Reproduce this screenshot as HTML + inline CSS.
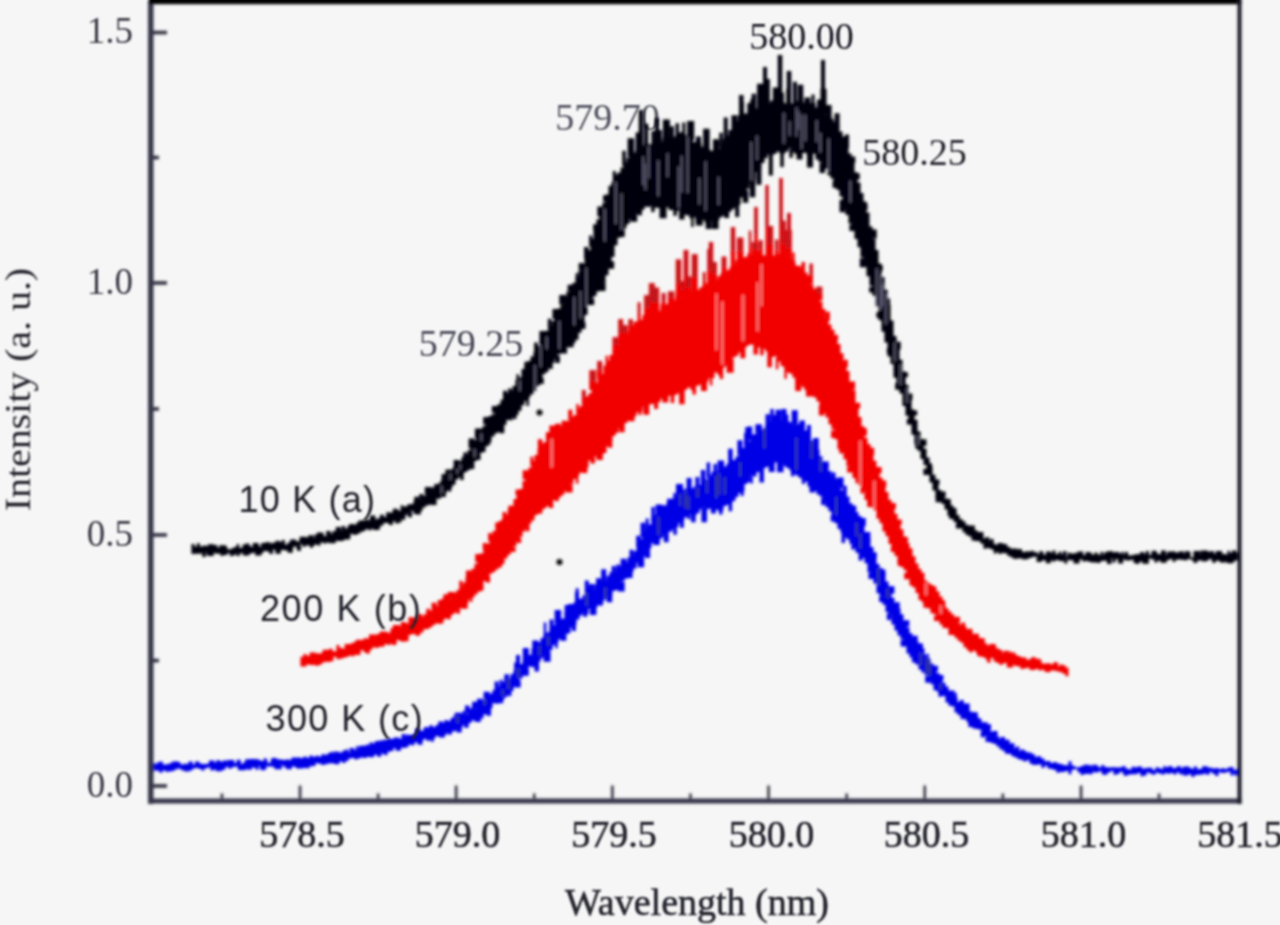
<!DOCTYPE html><html><head><meta charset="utf-8"><style>html,body{margin:0;padding:0;background:#f6f6f6;overflow:hidden}svg{display:block}</style></head><body><svg width="1280" height="925" viewBox="0 0 1280 925"><defs><filter id="b" x="-2%" y="-2%" width="104%" height="104%"><feGaussianBlur stdDeviation="1.35"/></filter><filter id="t" x="-5%" y="-5%" width="110%" height="110%"><feGaussianBlur stdDeviation="1.1"/></filter></defs><rect width="1280" height="925" fill="#f6f6f6"/><g filter="url(#t)"><text x="801.5" y="49" font-family="Liberation Serif" font-size="38" text-anchor="middle" fill="#181820">580.00</text><text x="914.5" y="165" font-family="Liberation Serif" font-size="38" text-anchor="middle" fill="#22222c">580.25</text><text x="607.5" y="129.5" font-family="Liberation Serif" font-size="38" text-anchor="middle" fill="#50505e">579.70</text><text x="471" y="356" font-family="Liberation Serif" font-size="38" text-anchor="middle" fill="#464654">579.25</text></g><g filter="url(#b)"><path d="M152.0 764.0V772.6M155.0 763.3V770.6M158.0 764.6V770.8M161.0 761.6V772.7M164.0 764.6V770.6M167.0 764.2V771.7M170.0 763.4V771.4M173.0 761.7V771.0M176.0 761.2V769.5M179.0 762.0V768.6M182.0 764.5V770.1M185.0 763.8V771.2M188.0 763.9V771.5M191.0 762.2V770.6M194.0 764.4V768.6M197.0 762.1V768.0M200.0 763.6V769.1M203.0 763.9V770.6M206.0 763.9V768.2M209.0 763.4V767.5M212.0 762.2V770.5M215.0 762.4V769.8M218.0 763.0V769.2M221.0 761.5V770.5M224.0 761.8V769.8M227.0 764.1V767.0M230.0 762.4V768.7M233.0 763.2V767.2M236.0 763.1V766.6M239.0 759.9V768.7M242.0 763.7V766.2M245.0 762.0V770.1M248.0 760.2V768.4M251.0 760.7V767.1M254.0 761.1V767.8M257.0 759.0V767.3M260.0 760.2V766.1M263.0 760.9V770.3M266.0 759.5V765.9M269.0 762.9V766.6M272.0 760.4V766.6M275.0 759.1V767.7M278.0 759.3V768.5M281.0 759.5V764.8M284.0 759.9V766.6M287.0 759.4V768.8M290.0 759.8V767.1M293.0 757.5V766.6M296.0 757.6V767.0M299.0 757.6V764.6M302.0 758.0V768.0M305.0 756.5V765.5M308.0 757.8V768.2M311.0 755.4V766.2M314.0 756.7V766.0M317.0 755.8V763.2M320.0 756.5V763.7M323.0 754.2V765.0M326.0 754.7V764.3M329.0 753.3V763.4M332.0 753.9V763.2M335.0 751.4V763.9M338.0 751.7V762.2M341.0 752.4V761.4M344.0 750.5V763.1M347.0 749.4V760.9M350.0 752.2V758.5M353.0 750.0V757.9M356.0 749.9V759.6M359.0 749.1V758.6M362.0 746.8V757.6M365.0 745.4V758.0M368.0 744.5V756.9M371.0 746.2V755.2M374.0 743.8V755.0M377.0 740.9V754.7M380.0 742.1V752.1M383.0 741.1V754.2M386.0 741.3V753.7M389.0 738.2V751.8M392.0 739.0V751.1M395.0 737.6V748.1M398.0 737.4V748.6M401.0 738.8V747.6M404.0 736.9V748.1M407.0 734.4V747.3M410.0 734.9V744.8M413.0 734.5V745.2M416.0 733.9V742.4M419.0 731.1V741.6M422.0 730.7V740.7M425.0 728.7V739.0M428.0 728.5V741.1M431.0 727.0V739.8M434.0 727.1V738.4M437.0 725.1V735.9M440.0 725.0V736.6M443.0 722.4V734.6M446.0 719.9V734.4M449.0 721.1V732.5M452.0 718.0V731.6M455.0 715.5V731.3M458.0 713.8V729.8M461.0 714.1V727.7M464.0 711.1V725.3M467.0 713.6V723.7M470.0 708.4V722.9M473.0 706.9V720.4M476.0 708.2V721.3M479.0 703.1V717.1M482.0 701.1V718.6M485.0 700.1V714.4M488.0 695.9V713.2M491.0 693.5V708.2M494.0 690.0V703.2M497.0 688.7V703.7M500.0 685.7V701.9M503.0 682.1V699.5M506.0 677.0V697.0M509.0 677.9V693.4M512.0 674.1V691.0M515.0 670.8V686.8M518.0 667.6V682.3M521.0 664.0V678.5M524.0 660.2V675.8M527.0 655.0V671.6M530.0 654.8V666.6M533.0 648.5V667.2M536.0 645.9V665.9M539.0 642.3V661.7M542.0 638.1V658.3M545.0 634.5V655.2M548.0 632.3V654.5M551.0 629.1V650.1M554.0 625.0V645.3M557.0 620.6V642.5M560.0 618.9V639.0M563.0 618.6V636.2M566.0 612.2V634.4M569.0 608.1V633.2M572.0 605.6V627.5M575.0 602.6V624.6M578.0 599.1V619.5M581.0 598.4V615.5M584.0 595.2V613.2M587.0 594.2V613.9M590.0 591.1V608.8M593.0 590.2V608.5M596.0 584.4V607.3M599.0 584.2V605.2M602.0 580.7V603.2M605.0 580.2V599.7M608.0 575.7V598.6M611.0 572.1V595.0M614.0 572.3V591.1M617.0 568.4V589.9M620.0 566.2V587.5M623.0 563.5V581.1M626.0 562.2V578.7M629.0 557.4V574.3M632.0 555.4V572.1M635.0 551.1V568.5M638.0 545.6V562.8M641.0 539.1V558.7M644.0 531.2V556.1M647.0 527.0V548.5M650.0 524.2V548.0M653.0 517.1V543.0M656.0 514.9V543.0M659.0 513.0V539.9M662.0 510.4V537.8M665.0 505.4V534.1M668.0 502.6V531.8M671.0 502.9V531.4M674.0 498.6V529.1M677.0 496.6V527.0M680.0 492.8V523.1M683.0 489.4V519.9M686.0 488.7V517.3M689.0 489.3V519.2M692.0 488.2V514.3M695.0 486.6V515.4M698.0 484.5V513.2M701.0 484.9V509.2M704.0 478.9V507.4M707.0 479.2V509.6M710.0 475.3V508.7M713.0 471.8V508.6M716.0 473.1V509.5M719.0 470.1V510.7M722.0 466.4V510.5M725.0 466.4V505.9M728.0 463.7V504.7M731.0 459.9V502.5M734.0 459.9V500.9M737.0 456.4V496.9M740.0 452.0V493.1M743.0 447.7V491.4M746.0 440.4V484.1M749.0 441.2V482.3M752.0 434.7V475.8M755.0 433.9V476.6M758.0 432.0V472.3M761.0 430.4V471.0M764.0 427.9V468.6M767.0 424.8V467.1M770.0 421.7V466.3M773.0 423.6V463.8M776.0 421.2V462.5M779.0 422.7V463.1M782.0 420.4V463.2M785.0 422.4V466.5M788.0 421.2V468.3M791.0 422.2V470.4M794.0 424.3V473.7M797.0 424.2V475.6M800.0 423.8V477.8M803.0 425.9V479.5M806.0 430.3V481.7M809.0 435.1V486.4M812.0 440.2V485.1M815.0 445.6V491.0M818.0 449.7V494.6M821.0 456.3V496.4M824.0 462.4V501.0M827.0 465.6V507.3M830.0 471.1V511.3M833.0 476.4V518.5M836.0 478.3V523.2M839.0 483.3V529.1M842.0 489.9V532.4M845.0 494.1V537.6M848.0 496.4V539.4M851.0 503.3V543.9M854.0 505.5V547.7M857.0 512.0V552.8M860.0 515.9V553.7M863.0 522.2V558.0M866.0 532.1V563.2M869.0 538.4V572.0M872.0 547.0V577.2M875.0 553.5V583.6M878.0 564.0V593.3M881.0 568.0V596.6M884.0 573.1V604.7M887.0 581.6V612.1M890.0 586.7V614.7M893.0 597.8V624.6M896.0 603.3V630.4M899.0 608.2V635.4M902.0 614.2V639.1M905.0 622.2V646.3M908.0 627.4V653.6M911.0 633.3V657.6M914.0 637.0V660.9M917.0 641.3V664.4M920.0 643.8V669.6M923.0 648.3V672.5M926.0 655.0V675.0M929.0 658.5V680.8M932.0 663.6V684.3M935.0 667.6V690.3M938.0 673.1V691.4M941.0 678.3V694.9M944.0 682.8V696.3M947.0 686.5V702.6M950.0 690.4V705.7M953.0 690.5V706.5M956.0 697.5V712.6M959.0 702.0V714.9M962.0 702.5V718.9M965.0 704.4V719.2M968.0 708.6V721.9M971.0 711.4V723.6M974.0 712.6V728.6M977.0 717.1V729.0M980.0 718.6V729.8M983.0 722.2V735.6M986.0 722.3V736.2M989.0 726.9V738.6M992.0 731.6V742.9M995.0 733.2V744.1M998.0 736.6V746.6M1001.0 739.3V749.2M1004.0 741.0V750.9M1007.0 741.1V753.0M1010.0 743.6V754.0M1013.0 747.0V756.3M1016.0 748.5V757.6M1019.0 751.0V759.3M1022.0 752.7V760.0M1025.0 750.9V761.5M1028.0 752.8V760.3M1031.0 754.9V763.8M1034.0 756.1V765.0M1037.0 757.6V764.8M1040.0 758.8V764.6M1043.0 758.5V768.0M1046.0 761.3V765.7M1049.0 761.0V768.4M1052.0 762.9V769.1M1055.0 761.9V769.9M1058.0 763.3V772.8M1061.0 764.0V769.2M1064.0 764.9V771.4M1067.0 765.2V771.1M1070.0 761.3V774.2M1073.0 765.6V769.7M1076.0 767.1V769.1M1079.0 767.2V772.3M1082.0 766.1V775.1M1085.0 764.8V772.7M1088.0 766.4V773.8M1091.0 765.2V774.3M1094.0 768.6V772.2M1097.0 765.5V772.6M1100.0 767.6V771.3M1103.0 767.1V773.2M1106.0 767.0V773.9M1109.0 767.6V772.5M1112.0 767.3V770.9M1115.0 767.3V774.7M1118.0 767.6V773.9M1121.0 767.3V771.7M1124.0 766.0V773.5M1127.0 768.4V774.7M1130.0 769.5V774.4M1133.0 766.8V774.3M1136.0 767.3V774.3M1139.0 767.1V773.1M1142.0 768.7V776.3M1145.0 768.3V773.6M1148.0 767.8V772.4M1151.0 767.8V773.7M1154.0 770.0V774.8M1157.0 767.3V772.8M1160.0 768.3V773.6M1163.0 769.2V774.4M1166.0 767.5V773.2M1169.0 766.6V773.8M1172.0 768.0V772.9M1175.0 768.1V774.6M1178.0 767.8V772.4M1181.0 768.4V774.5M1184.0 766.8V773.6M1187.0 769.2V774.1M1190.0 767.7V774.4M1193.0 768.9V777.0M1196.0 769.6V775.1M1199.0 769.0V774.7M1202.0 768.7V774.5M1205.0 767.9V773.7M1208.0 767.5V774.7M1211.0 767.7V772.0M1214.0 768.6V774.0M1217.0 768.1V775.9M1220.0 769.1V772.2M1223.0 768.2V773.0M1226.0 768.9V772.6M1229.0 767.5V771.7M1232.0 767.0V775.6M1235.0 770.0V773.4M1238.0 768.6V774.5" stroke="#0606e6" stroke-width="3.06" fill="none"/><path d="M160.0 762.2V766.8M211.7 760.6V765.5M274.0 757.9V762.6M361.5 745.7V750.4M591.8 583.9V593.0M802.2 420.5V428.8M816.0 438.1V450.4M863.0 517.9V526.1M920.2 643.6V648.4M935.2 665.8V671.3M940.7 674.9V680.3M1204.9 766.3V771.0M398.3 745.9V750.7M478.1 715.6V722.1M609.5 593.3V602.2M704.2 507.6V522.3M812.2 484.0V492.4M871.2 572.5V578.9M903.4 639.8V646.6M914.7 657.7V662.5M971.0 721.9V727.1M1061.9 767.5V772.0M1143.9 771.0V775.6" stroke="#0606e6" stroke-width="5.5" fill="none"/><path d="M173.5 762.0V766.6M190.4 761.5V766.2M218.2 760.3V765.3M238.6 759.7V764.5M496.6 681.6V691.4M551.5 619.6V630.5M586.8 580.4V596.0M613.7 566.0V575.2M631.5 549.7V558.6M697.4 477.0V490.1M808.9 425.1V438.7M833.5 472.6V479.1M961.7 700.0V704.7M1022.3 749.4V754.3M1094.6 764.8V769.8M379.2 751.0V756.8M450.0 729.7V734.5M526.8 669.6V675.7M573.9 622.1V630.9M585.2 610.0V616.7M681.9 518.7V527.7M860.6 553.2V560.6M982.7 731.5V737.3M1125.7 770.9V775.8M1236.6 771.0V775.6M518.0 655.0V671.0M577.0 592.0V604.7" stroke="#0606e6" stroke-width="4.0" fill="none"/><path d="M197.2 761.5V766.1M225.2 760.4V765.0M351.9 747.9V752.6M426.3 727.1V731.8M440.5 721.5V726.0M467.2 705.6V713.0M506.7 674.2V681.9M516.4 662.4V671.9M638.4 535.8V546.6M703.1 469.9V485.1M730.4 448.7V465.0M750.0 426.5V440.2M767.8 414.2V428.0M868.1 532.0V540.1M874.4 552.3V556.9M883.2 569.6V575.4M1002.8 737.0V741.8M1007.4 739.8V744.8M1038.8 756.2V761.1M1139.8 766.5V771.0M1178.8 766.2V771.0M1187.0 766.4V771.0M249.6 765.0V769.7M289.6 764.2V769.2M466.4 721.9V727.8M488.8 708.0V715.8M536.8 660.3V671.4M693.4 511.7V522.2M761.7 468.5V482.6M823.4 497.4V505.0M889.1 613.2V620.1M590.0 588.0V595.1" stroke="#0606e6" stroke-width="4.5" fill="none"/><path d="M230.8 760.1V764.8M458.2 712.8V718.2M679.5 484.0V497.0M278.3 764.4V769.3M299.6 763.9V768.5M547.1 650.8V661.8M621.2 581.7V591.5" stroke="#0606e6" stroke-width="7.0" fill="none"/><path d="M248.2 759.2V764.1M252.7 759.0V763.8M385.9 739.7V744.4M475.1 701.8V708.5M480.0 698.7V705.7M486.6 691.7V700.6M525.8 648.0V661.0M535.3 640.4V649.4M570.9 604.1V610.8M623.6 558.7V566.4M778.6 409.7V423.8M794.7 410.3V424.5M906.3 620.2V626.4M1028.7 752.6V757.2M218.9 766.2V771.2M241.2 765.4V770.3M306.0 763.3V768.0M441.9 732.5V737.5M517.7 680.3V687.4M563.4 634.6V640.8M629.6 571.7V577.9M771.7 462.9V472.0M1084.5 769.4V774.0" stroke="#0606e6" stroke-width="6.0" fill="none"/><path d="M265.0 758.2V763.1M357.1 746.3V751.4M545.0 622.6V637.5M674.5 493.0V501.4M927.5 653.8V659.0M955.6 692.8V698.6M386.1 749.4V755.2M556.5 641.5V648.2M751.6 476.1V483.4" stroke="#0606e6" stroke-width="2.5" fill="none"/><path d="M331.6 751.9V756.5M371.3 742.5V748.0M376.1 741.8V746.9M403.4 734.1V739.0M431.0 725.3V729.9M566.4 605.0V615.6M618.1 564.5V571.2M653.1 507.0V521.9M663.1 505.2V511.9M708.4 462.5V478.0M715.2 464.1V474.0M845.0 485.7V495.5M1012.7 743.2V748.3M1017.5 746.5V751.4M1032.9 753.9V758.8M1087.5 764.8V769.5M1195.4 766.4V771.0M337.7 759.5V764.2M509.7 689.9V696.0M675.1 523.9V534.8M720.8 506.7V514.6M730.4 500.1V511.2M792.7 469.2V476.2M843.3 532.1V542.9M853.1 544.4V549.6M940.2 690.5V696.8M1006.8 748.7V753.7M772.0 409.0V427.2M747.0 427.0V445.1" stroke="#0606e6" stroke-width="3.5" fill="none"/><path d="M381.1 740.5V745.7M417.7 728.4V734.6M598.5 578.3V588.5M603.7 569.2V584.1M643.1 522.7V537.4M689.1 478.1V492.0M739.9 440.3V455.3M897.2 602.3V607.9M915.2 635.7V641.4M975.3 712.2V718.0M995.1 731.0V736.2M371.7 752.6V757.2M420.0 739.7V744.7M459.2 725.8V732.4M500.7 697.8V703.2M647.6 546.4V558.0M666.2 530.8V542.2M713.4 507.3V513.5M833.2 515.4V521.5M881.6 596.6V602.1M927.7 675.9V682.7M1104.7 770.2V774.7M1185.6 771.0V775.6M784.0 409.0V424.5" stroke="#0606e6" stroke-width="5.0" fill="none"/><path d="M501.1 679.7V687.2M577.2 588.3V603.5M647.2 518.5V530.0M745.6 432.7V446.0M786.9 414.6V423.7M854.8 505.9V511.2M1102.8 765.1V770.1M1164.6 766.2V771.0M1170.8 766.1V771.0M257.1 764.9V769.7M432.3 735.8V741.7M601.2 599.7V605.7M742.2 487.8V496.0M803.4 477.5V484.1" stroke="#0606e6" stroke-width="3.0" fill="none"/><path d="M557.9 610.0V624.1M658.9 504.5V516.1M670.3 498.7V505.2M720.9 460.4V471.8M758.6 424.2V433.3M774.5 415.1V425.2M825.5 461.5V467.9M840.3 477.4V488.6M891.2 586.2V593.7M966.4 703.4V709.4M987.8 724.3V729.6M263.2 764.7V769.6M593.2 605.2V614.9M640.9 555.8V567.2M656.5 538.2V545.0M780.3 460.6V472.2M988.8 736.5V741.9" stroke="#0606e6" stroke-width="6.5" fill="none"/><path d="M457.6 715.5V723.1M484.9 699.1V704.9M502.7 689.6V696.0M508.6 678.5V689.6M518.3 668.3V678.0M539.5 645.8V655.6M548.2 636.3V645.7M586.8 593.0V605.8M605.4 587.6V598.6M658.5 517.1V534.9M680.2 493.8V505.8M685.5 490.7V508.2M688.3 496.2V509.6M697.6 487.8V497.4M707.0 480.5V493.0M716.1 475.4V498.2M719.1 473.4V494.7M724.8 477.3V494.6M740.1 462.2V476.6M764.2 427.8V448.5M796.2 438.0V469.9M811.6 441.3V458.4M820.8 458.2V471.8M836.1 497.0V515.2M856.6 522.7V536.1M860.2 533.5V548.5M878.2 568.3V585.4M887.6 588.6V598.0M920.7 652.8V665.5M926.7 657.1V673.2M929.5 660.7V676.0M940.5 683.4V689.2" stroke="#3c4478" stroke-width="1.65" fill="none"/><path d="M302.0 656.7V666.4M305.0 653.9V666.6M308.0 655.7V664.6M311.0 656.5V664.9M314.0 652.4V664.9M317.0 653.3V665.8M320.0 653.4V665.0M323.0 652.6V662.8M326.0 652.5V661.7M329.0 650.0V661.9M332.0 651.5V661.3M335.0 651.2V656.8M338.0 645.0V659.3M341.0 648.1V658.7M344.0 648.5V657.8M347.0 644.2V657.0M350.0 644.0V655.8M353.0 642.7V656.2M356.0 641.3V654.2M359.0 641.7V652.5M362.0 639.9V650.2M365.0 638.3V651.1M368.0 638.6V653.8M371.0 636.6V649.8M374.0 636.1V647.2M377.0 634.3V647.9M380.0 633.5V646.7M383.0 632.9V646.7M386.0 631.8V644.2M389.0 632.7V645.1M392.0 628.2V643.6M395.0 626.4V643.4M398.0 626.6V640.0M401.0 626.5V641.3M404.0 623.6V641.4M407.0 623.2V639.0M410.0 623.1V635.1M413.0 619.4V634.1M416.0 618.4V634.6M419.0 616.6V634.3M422.0 616.4V632.5M425.0 614.3V629.2M428.0 611.5V629.1M431.0 610.5V627.2M434.0 606.9V624.9M437.0 606.3V623.0M440.0 603.4V621.1M443.0 598.5V620.3M446.0 599.3V618.5M449.0 599.8V616.4M452.0 592.8V615.1M455.0 592.4V612.9M458.0 589.9V609.5M461.0 587.1V608.0M464.0 582.6V605.2M467.0 577.3V602.9M470.0 572.3V599.5M473.0 568.8V597.6M476.0 563.8V594.5M479.0 558.0V591.8M482.0 553.3V590.6M485.0 549.0V580.9M488.0 543.5V581.0M491.0 534.7V573.8M494.0 531.0V572.0M497.0 527.7V569.4M500.0 521.1V567.3M503.0 519.1V563.9M506.0 514.4V558.4M509.0 509.9V555.1M512.0 505.7V550.7M515.0 499.0V546.3M518.0 494.6V541.6M521.0 489.1V536.8M524.0 480.9V531.5M527.0 471.7V528.2M530.0 467.6V523.7M533.0 461.0V520.5M536.0 455.0V515.2M539.0 449.2V510.8M542.0 443.7V509.9M545.0 442.0V508.3M548.0 440.0V505.9M551.0 431.9V503.0M554.0 432.7V500.2M557.0 431.3V501.3M560.0 426.6V497.2M563.0 425.7V494.8M566.0 421.8V490.9M569.0 420.4V491.2M572.0 416.9V483.7M575.0 415.1V479.1M578.0 408.8V475.5M581.0 405.9V472.6M584.0 401.8V470.2M587.0 396.3V467.4M590.0 393.2V460.6M593.0 385.2V459.2M596.0 383.0V456.6M599.0 375.7V455.8M602.0 373.9V454.2M605.0 365.5V453.0M608.0 360.6V446.6M611.0 354.9V440.6M614.0 350.7V436.0M617.0 346.0V433.0M620.0 341.1V427.7M623.0 339.0V424.8M626.0 335.6V423.0M629.0 331.6V419.9M632.0 325.9V418.7M635.0 321.7V416.3M638.0 321.2V412.2M641.0 319.8V411.8M644.0 314.9V406.8M647.0 314.1V407.8M650.0 312.0V404.4M653.0 311.0V403.9M656.0 312.1V401.4M659.0 310.7V402.3M662.0 304.2V398.8M665.0 304.5V401.2M668.0 303.7V396.3M671.0 300.8V395.6M674.0 300.2V395.5M677.0 296.5V394.2M680.0 298.7V392.5M683.0 294.5V392.0M686.0 293.4V389.7M689.0 293.6V387.5M692.0 291.3V390.0M695.0 289.9V385.6M698.0 289.7V385.7M701.0 287.3V384.5M704.0 285.0V383.5M707.0 283.3V381.7M710.0 283.9V378.3M713.0 279.5V377.9M716.0 279.8V372.4M719.0 275.9V374.9M722.0 273.0V369.0M725.0 272.5V366.7M728.0 270.1V363.6M731.0 266.9V360.6M734.0 264.5V357.4M737.0 260.1V355.7M740.0 260.7V352.6M743.0 257.4V348.7M746.0 256.7V347.1M749.0 253.1V345.1M752.0 254.4V344.5M755.0 253.9V345.0M758.0 251.9V347.2M761.0 254.2V348.2M764.0 255.2V349.1M767.0 255.4V351.6M770.0 252.9V356.9M773.0 255.6V357.1M776.0 255.3V355.9M779.0 254.1V361.4M782.0 256.5V366.0M785.0 257.4V367.4M788.0 257.7V372.5M791.0 259.3V373.8M794.0 261.3V377.7M797.0 265.6V381.9M800.0 266.1V384.5M803.0 269.8V387.2M806.0 272.5V390.2M809.0 275.6V391.6M812.0 285.0V395.8M815.0 288.7V397.6M818.0 295.7V401.6M821.0 301.7V407.1M824.0 308.9V413.0M827.0 319.3V417.6M830.0 324.5V424.3M833.0 329.8V429.3M836.0 336.6V439.3M839.0 344.1V449.2M842.0 353.2V452.5M845.0 361.5V459.3M848.0 370.9V466.3M851.0 383.0V470.7M854.0 390.2V478.0M857.0 404.8V483.2M860.0 416.9V486.1M863.0 426.2V490.8M866.0 437.8V499.9M869.0 444.0V501.2M872.0 453.6V507.6M875.0 460.8V511.1M878.0 468.1V518.8M881.0 477.6V523.3M884.0 486.5V531.4M887.0 491.9V536.3M890.0 499.8V544.1M893.0 508.0V547.6M896.0 513.8V555.9M899.0 521.0V562.6M902.0 529.2V566.9M905.0 536.6V570.0M908.0 543.0V579.0M911.0 548.3V585.5M914.0 556.2V587.6M917.0 563.6V593.1M920.0 569.0V600.1M923.0 572.7V602.2M926.0 580.6V605.9M929.0 583.1V608.6M932.0 585.0V613.2M935.0 588.4V614.3M938.0 591.6V620.6M941.0 596.5V624.4M944.0 604.5V628.0M947.0 608.2V628.2M950.0 611.5V635.1M953.0 614.5V634.9M956.0 617.6V637.7M959.0 623.1V640.8M962.0 625.3V642.8M965.0 626.5V647.2M968.0 629.1V649.2M971.0 631.0V652.6M974.0 633.9V650.8M977.0 638.3V652.4M980.0 638.0V656.4M983.0 642.0V657.0M986.0 643.6V658.5M989.0 645.4V662.8M992.0 647.0V657.9M995.0 647.3V661.6M998.0 648.4V663.1M1001.0 650.1V662.8M1004.0 653.0V663.5M1007.0 654.1V662.8M1010.0 651.5V666.9M1013.0 654.3V664.7M1016.0 655.1V666.1M1019.0 655.9V666.4M1022.0 657.2V668.9M1025.0 657.5V668.4M1028.0 659.8V667.8M1031.0 658.6V670.1M1034.0 659.3V670.0M1037.0 658.5V669.1M1040.0 660.7V670.6M1043.0 663.5V669.8M1046.0 663.4V671.9M1049.0 663.3V672.2M1052.0 664.3V670.4M1055.0 662.2V670.8M1058.0 666.4V671.6M1061.0 664.4V672.2M1064.0 665.2V673.8M1067.0 667.5V676.2" stroke="#f20606" stroke-width="3.06" fill="none"/><path d="M311.3 652.4V657.3M330.9 648.8V653.4M428.1 608.7V613.9M489.9 532.9V541.2M504.3 511.9V520.0M776.7 239.8V259.1M803.3 262.1V272.2M811.2 263.7V284.5M836.3 334.7V340.3M906.3 537.3V542.5M963.4 622.4V628.0M970.6 628.7V634.2M1033.6 657.1V662.1M458.3 607.1V613.8M481.2 584.7V590.5M527.8 523.6V531.2M672.5 392.8V403.0M694.3 383.7V394.4M721.4 367.6V378.9M761.9 345.4V355.3M862.3 487.3V493.5M988.4 655.0V660.9M781.0 178.0V260.8M756.0 207.0V258.0" stroke="#f20606" stroke-width="3.5" fill="none"/><path d="M326.2 649.8V654.5M396.4 625.1V630.5M446.9 594.3V601.4M552.9 425.6V436.6M592.8 370.3V390.1M755.0 242.1V257.0M405.0 636.5V641.3M569.1 484.3V492.6M631.1 415.2V421.3M730.1 358.9V372.8M809.5 390.2V396.5" stroke="#f20606" stroke-width="7.0" fill="none"/><path d="M346.9 643.9V648.5M540.1 439.3V450.2M630.6 319.2V332.3M709.5 249.1V286.3M733.0 227.2V267.5M827.6 311.7V321.0M864.7 428.2V435.8M884.0 480.5V487.2M957.7 616.7V622.4M394.1 640.0V645.1M487.9 576.2V582.5M551.0 500.3V507.9M592.8 458.0V463.5M755.7 342.7V354.6M769.6 350.4V367.2M899.9 560.1V566.1M925.6 602.3V607.7M711.0 242.0V286.5" stroke="#f20606" stroke-width="4.5" fill="none"/><path d="M358.6 639.8V644.8M403.3 622.0V627.5M419.5 613.9V618.8M434.1 602.8V610.2M440.2 599.9V606.0M548.4 432.3V440.8M564.2 420.7V426.5M599.7 361.0V378.1M620.7 319.2V344.7M724.0 256.7V275.7M942.7 600.2V605.3M1006.1 650.7V655.9M742.9 346.9V358.2M833.6 430.6V438.0M906.7 572.7V579.3M686.0 250.0V298.2" stroke="#f20606" stroke-width="5.0" fill="none"/><path d="M372.2 634.5V640.0M411.7 617.3V623.3M451.0 592.0V598.5M478.5 553.9V562.0M498.5 522.5V528.1M518.8 489.4V494.9M656.0 287.7V313.5M671.2 291.4V304.5M688.5 276.6V296.2M740.2 237.7V261.4M788.6 230.1V261.5M819.2 286.8V300.5M892.6 503.1V508.9M932.9 586.3V590.9M992.6 644.1V649.4M440.0 618.7V623.8M464.4 601.9V608.7M599.6 452.4V460.1M1010.0 661.8V667.4" stroke="#f20606" stroke-width="6.5" fill="none"/><path d="M382.6 631.5V636.3M468.7 570.4V577.9M625.0 325.3V339.2M678.5 259.5V300.4M714.2 262.0V283.7M783.1 220.8V260.1M976.3 633.7V638.9M982.1 638.3V643.2M512.8 547.2V552.0M539.5 509.2V513.8M621.9 423.6V432.3M681.9 388.9V404.3M821.6 405.3V415.4M869.9 500.7V507.0M936.8 615.4V620.9" stroke="#f20606" stroke-width="5.5" fill="none"/><path d="M460.8 580.8V589.8M531.8 456.7V465.7M639.1 302.4V322.9M704.2 272.3V288.9M557.3 495.8V500.7M639.9 408.1V415.1M968.8 645.1V650.4M978.5 651.0V655.7M1001.0 659.5V664.9M767.0 185.0V258.7" stroke="#f20606" stroke-width="3.0" fill="none"/><path d="M484.8 542.9V550.5M510.2 505.8V510.9M570.3 409.7V420.3M583.8 390.1V405.1M663.6 293.1V309.0M682.6 281.3V298.6M760.7 240.3V257.1M845.8 359.8V367.4M1013.5 652.6V657.6M1056.1 662.6V667.2M417.8 630.6V635.7M448.9 613.2V619.3M500.1 562.4V567.2M519.2 537.8V543.0M610.3 439.4V447.8M656.1 399.6V409.1M841.3 448.5V453.6M892.9 546.6V552.1M789.0 213.0V262.7" stroke="#f20606" stroke-width="4.0" fill="none"/><path d="M525.7 470.3V479.6M557.9 423.8V432.3M615.5 337.3V352.1M647.1 295.3V318.2M651.8 283.2V315.7M694.7 254.3V293.5M770.2 226.1V258.2M852.1 381.6V389.5M857.2 402.7V408.4M871.2 447.7V455.1M878.6 467.0V473.6M898.8 519.5V524.6M357.5 650.3V655.1M366.9 647.8V652.5M584.4 465.1V473.0M646.3 404.6V414.8M665.3 395.7V402.5M704.0 379.0V390.9M798.2 378.8V391.0M850.1 466.8V472.4" stroke="#f20606" stroke-width="6.0" fill="none"/><path d="M577.5 404.1V412.8M606.8 355.8V366.2M750.0 230.7V257.6M793.5 252.4V264.4M1039.8 658.9V663.5M471.1 595.6V602.0M577.2 473.6V483.8M711.1 375.4V385.5M777.1 356.4V369.3M785.6 365.4V378.8" stroke="#f20606" stroke-width="2.5" fill="none"/><g stroke="#c0141e" fill="none"><path d="M583.8 390.1V397.9" stroke-width="2.9"/><path d="M592.8 370.3V381.2" stroke-width="4.7"/><path d="M599.7 361.0V370.2" stroke-width="3.5"/><path d="M615.5 337.3V345.0" stroke-width="4.1"/><path d="M620.7 319.2V333.8" stroke-width="3.5"/><path d="M625.0 325.3V332.4" stroke-width="3.8"/><path d="M630.6 319.2V325.8" stroke-width="3.1"/><path d="M639.1 302.4V313.8" stroke-width="2.1"/><path d="M647.1 295.3V308.3" stroke-width="4.4"/><path d="M651.8 283.2V302.4" stroke-width="4.3"/><path d="M656.0 287.7V302.5" stroke-width="4.6"/><path d="M663.6 293.1V301.5" stroke-width="3.0"/><path d="M671.2 291.4V297.9" stroke-width="4.5"/><path d="M678.5 259.5V284.2" stroke-width="3.8"/><path d="M682.6 281.3V290.6" stroke-width="2.9"/><path d="M688.5 276.6V287.4" stroke-width="4.6"/><path d="M694.7 254.3V277.8" stroke-width="4.3"/><path d="M704.2 272.3V281.1" stroke-width="2.1"/><path d="M709.5 249.1V271.3" stroke-width="3.3"/><path d="M714.2 262.0V274.2" stroke-width="3.7"/><path d="M724.0 256.7V267.1" stroke-width="3.5"/><path d="M733.0 227.2V251.4" stroke-width="3.3"/><path d="M740.2 237.7V251.2" stroke-width="4.5"/><path d="M750.0 230.7V246.2" stroke-width="1.8"/><path d="M755.0 242.1V249.8" stroke-width="4.9"/><path d="M760.7 240.3V249.3" stroke-width="3.0"/><path d="M770.2 226.1V245.0" stroke-width="4.2"/><path d="M776.7 239.8V250.4" stroke-width="2.4"/><path d="M783.1 220.8V244.4" stroke-width="3.7"/><path d="M788.6 230.1V248.6" stroke-width="4.5"/><path d="M811.2 263.7V275.3" stroke-width="2.6"/><path d="M819.2 286.8V293.7" stroke-width="4.5"/><path d="M767.0 185.0V226.8" stroke-width="3"/><path d="M781.0 178.0V225.3" stroke-width="3"/><path d="M756.0 207.0V235.2" stroke-width="3"/><path d="M789.0 213.0V240.4" stroke-width="3"/><path d="M711.0 242.0V266.3" stroke-width="3"/><path d="M686.0 250.0V276.5" stroke-width="3"/></g><path d="M551.8 439.1V467.5M716.4 293.4V349.9M722.2 301.5V364.4M743.0 295.0V341.0M757.6 282.2V331.2M761.4 264.2V306.0M860.3 440.5V486.1M874.3 480.9V511.1M926.0 583.0V595.3M940.8 605.2V613.7" stroke="#ff8a8a" stroke-width="1.65" fill="none"/><path d="M193.0 544.1V554.1M196.0 546.6V553.8M199.0 547.1V553.7M202.0 546.2V553.4M205.0 545.6V552.4M208.0 546.2V555.2M211.0 547.9V553.9M214.0 545.6V553.0M217.0 547.7V553.7M220.0 547.7V553.4M223.0 546.4V555.2M226.0 547.1V554.9M229.0 549.4V552.9M232.0 548.5V552.5M235.0 547.0V554.9M238.0 546.8V552.6M241.0 548.0V553.5M244.0 544.4V552.2M247.0 545.0V551.6M250.0 546.0V553.7M253.0 547.2V553.1M256.0 543.9V552.1M259.0 546.0V552.1M262.0 547.4V552.9M265.0 544.5V551.0M268.0 545.4V551.5M271.0 543.6V552.2M274.0 542.6V549.8M277.0 543.0V551.0M280.0 541.6V550.2M283.0 543.1V549.9M286.0 544.5V550.5M289.0 542.5V551.6M292.0 542.9V548.2M295.0 540.4V546.6M298.0 541.5V549.0M301.0 539.7V544.4M304.0 538.1V546.7M307.0 537.2V545.6M310.0 537.9V545.4M313.0 537.9V546.0M316.0 534.5V544.4M319.0 532.9V545.4M322.0 533.9V542.5M325.0 536.1V543.6M328.0 531.3V542.4M331.0 533.7V541.5M334.0 531.1V540.3M337.0 531.1V540.6M340.0 530.5V538.8M343.0 526.4V540.0M346.0 528.5V537.7M349.0 525.7V538.0M352.0 525.4V534.1M355.0 524.6V535.0M358.0 522.4V534.1M361.0 524.0V532.3M364.0 520.2V531.0M367.0 521.8V529.3M370.0 520.2V530.2M373.0 518.8V528.8M376.0 519.2V527.5M379.0 518.2V527.6M382.0 516.3V525.4M385.0 517.0V523.1M388.0 512.7V522.9M391.0 513.6V522.2M394.0 512.3V521.5M397.0 509.6V520.1M400.0 510.7V522.6M403.0 506.8V518.0M406.0 506.2V515.2M409.0 504.3V513.4M412.0 504.0V511.0M415.0 500.5V513.9M418.0 498.0V512.3M421.0 499.4V511.1M424.0 495.7V507.4M427.0 493.6V505.6M430.0 491.2V504.7M433.0 487.4V501.1M436.0 484.9V498.6M439.0 483.2V499.1M442.0 480.2V494.2M445.0 479.7V493.3M448.0 473.9V490.7M451.0 470.5V487.8M454.0 467.6V484.8M457.0 463.4V479.4M460.0 460.9V477.1M463.0 457.1V473.1M466.0 454.3V472.0M469.0 450.2V469.9M472.0 444.1V465.4M475.0 440.1V461.3M478.0 436.1V459.7M481.0 428.7V452.9M484.0 426.0V452.1M487.0 420.7V446.2M490.0 415.9V441.6M493.0 414.3V436.6M496.0 408.6V433.5M499.0 404.2V432.1M502.0 399.7V428.5M505.0 395.7V424.7M508.0 393.1V420.0M511.0 390.3V420.3M514.0 385.9V416.9M517.0 380.0V415.1M520.0 377.5V410.7M523.0 369.0V405.3M526.0 366.1V401.0M529.0 361.0V397.2M532.0 356.5V394.2M535.0 351.8V391.1M538.0 345.8V386.1M541.0 340.1V380.0M544.0 338.6V374.3M547.0 330.8V371.9M550.0 326.1V368.6M553.0 320.9V363.0M556.0 316.1V359.1M559.0 308.6V354.3M562.0 304.4V352.2M565.0 297.1V351.2M568.0 291.5V347.5M571.0 286.6V344.5M574.0 282.7V342.9M577.0 276.8V339.7M580.0 270.8V332.7M583.0 264.4V325.5M586.0 257.8V314.9M589.0 250.2V305.1M592.0 238.7V298.6M595.0 229.8V295.9M598.0 219.2V291.6M601.0 210.7V287.8M604.0 202.4V282.4M607.0 194.6V275.2M610.0 185.8V266.2M613.0 181.9V256.9M616.0 174.6V245.3M619.0 172.4V237.7M622.0 167.5V230.0M625.0 162.4V227.9M628.0 157.8V223.9M631.0 153.0V219.1M634.0 152.6V217.5M637.0 150.3V214.5M640.0 146.5V209.1M643.0 145.6V209.7M646.0 141.4V206.7M649.0 144.3V206.9M652.0 144.3V205.4M655.0 141.6V207.4M658.0 139.3V208.0M661.0 141.4V207.9M664.0 137.8V209.1M667.0 138.4V207.2M670.0 136.5V210.1M673.0 137.4V209.9M676.0 136.0V211.5M679.0 132.8V210.4M682.0 132.0V212.0M685.0 135.0V214.8M688.0 135.6V215.6M691.0 137.1V218.5M694.0 142.0V217.2M697.0 141.5V220.5M700.0 142.4V218.8M703.0 146.7V220.3M706.0 149.5V222.4M709.0 149.5V222.1M712.0 150.7V220.8M715.0 149.9V219.5M718.0 149.2V220.0M721.0 144.1V217.2M724.0 138.8V215.6M727.0 135.5V212.7M730.0 130.1V211.7M733.0 126.1V209.2M736.0 121.0V207.0M739.0 115.3V204.8M742.0 116.3V197.5M745.0 113.4V194.2M748.0 113.4V188.7M751.0 110.4V183.2M754.0 108.7V179.3M757.0 108.3V171.9M760.0 106.3V167.8M763.0 103.6V163.0M766.0 101.6V158.3M769.0 102.7V154.4M772.0 100.4V154.7M775.0 102.1V154.1M778.0 102.6V151.8M781.0 100.4V153.7M784.0 102.8V153.4M787.0 103.8V151.5M790.0 103.5V148.6M793.0 103.4V152.3M796.0 101.8V154.0M799.0 100.2V153.1M802.0 101.8V153.1M805.0 102.7V152.8M808.0 103.9V154.8M811.0 102.9V156.7M814.0 103.0V153.8M817.0 107.4V159.4M820.0 107.8V162.1M823.0 112.8V165.5M826.0 114.9V168.8M829.0 114.3V175.2M832.0 118.4V178.4M835.0 121.7V182.2M838.0 126.5V189.9M841.0 131.6V196.6M844.0 136.6V208.1M847.0 144.3V215.0M850.0 153.5V223.6M853.0 160.9V231.1M856.0 172.2V239.1M859.0 182.5V247.3M862.0 192.9V257.2M865.0 201.5V265.6M868.0 212.6V276.3M871.0 226.5V285.8M874.0 239.1V295.7M877.0 250.0V306.3M880.0 263.4V320.2M883.0 277.0V331.7M886.0 289.8V342.4M889.0 304.8V356.6M892.0 320.6V364.0M895.0 335.9V377.7M898.0 348.0V387.9M901.0 359.8V393.4M904.0 371.4V406.1M907.0 384.7V415.7M910.0 398.5V424.2M913.0 409.6V434.8M916.0 419.8V444.0M919.0 431.6V450.7M922.0 440.8V459.1M925.0 448.6V464.9M928.0 457.6V474.8M931.0 466.2V482.5M934.0 474.8V490.4M937.0 484.0V497.3M940.0 490.1V501.3M943.0 493.0V504.1M946.0 498.5V509.5M949.0 503.0V515.7M952.0 505.4V519.1M955.0 511.2V521.9M958.0 514.9V524.9M961.0 519.1V527.9M964.0 521.2V532.2M967.0 524.7V534.9M970.0 526.1V536.6M973.0 530.6V540.4M976.0 530.2V541.0M979.0 533.2V541.2M982.0 536.9V543.8M985.0 538.8V548.8M988.0 539.7V548.0M991.0 541.4V548.9M994.0 543.8V549.9M997.0 544.8V551.9M1000.0 543.7V554.0M1003.0 544.3V552.9M1006.0 546.4V553.5M1009.0 547.1V556.1M1012.0 548.7V557.6M1015.0 549.9V559.1M1018.0 549.2V558.6M1021.0 551.3V558.5M1024.0 551.9V559.5M1027.0 551.2V559.3M1030.0 551.4V558.0M1033.0 553.2V557.1M1036.0 552.0V556.7M1039.0 553.9V558.7M1042.0 552.1V560.6M1045.0 554.8V560.3M1048.0 553.8V559.7M1051.0 552.7V560.6M1054.0 550.5V561.5M1057.0 553.9V559.9M1060.0 551.8V560.9M1063.0 554.2V561.2M1066.0 556.5V558.8M1069.0 552.7V560.2M1072.0 553.5V560.2M1075.0 553.2V560.5M1078.0 552.3V560.9M1081.0 554.4V559.5M1084.0 554.9V561.4M1087.0 552.1V561.0M1090.0 552.3V562.1M1093.0 554.6V562.6M1096.0 552.5V562.4M1099.0 554.4V562.9M1102.0 555.7V561.1M1105.0 553.0V560.8M1108.0 553.7V560.9M1111.0 551.1V558.4M1114.0 552.6V562.6M1117.0 554.2V559.3M1120.0 553.4V561.7M1123.0 554.9V559.3M1126.0 553.5V560.2M1129.0 555.6V560.5M1132.0 555.3V559.7M1135.0 554.4V563.1M1138.0 554.0V563.1M1141.0 555.0V561.8M1144.0 553.9V560.8M1147.0 552.2V560.1M1150.0 554.9V558.6M1153.0 552.8V559.5M1156.0 552.5V562.5M1159.0 553.9V560.8M1162.0 554.6V560.5M1165.0 555.6V560.3M1168.0 553.0V560.3M1171.0 552.4V558.9M1174.0 551.5V561.8M1177.0 552.6V559.8M1180.0 551.6V559.5M1183.0 553.6V559.9M1186.0 555.1V560.2M1189.0 551.8V559.1M1192.0 557.4V560.1M1195.0 555.0V562.3M1198.0 555.0V560.6M1201.0 554.2V560.6M1204.0 552.9V561.5M1207.0 550.8V561.1M1210.0 552.1V559.0M1213.0 552.8V560.5M1216.0 554.0V560.7M1219.0 553.9V560.7M1222.0 554.0V560.2M1225.0 554.1V561.7M1228.0 554.8V562.4M1231.0 553.0V561.3M1234.0 553.6V561.2M1237.0 552.6V560.2" stroke="#030308" stroke-width="3.06" fill="none"/><path d="M198.4 543.3V549.1M283.3 539.9V545.7M343.6 526.0V531.5M590.6 235.4V246.6M614.3 170.9V182.4M683.8 122.5V136.5M813.0 94.5V106.8M888.6 298.4V305.8M930.5 463.2V468.2M1032.4 550.7V555.3M1040.9 551.0V556.1M1147.4 551.1V556.5M221.8 551.0V555.8M238.3 550.7V555.9M311.4 542.9V547.8M449.8 484.9V491.4M888.3 348.3V353.2M916.8 443.3V448.5M995.2 548.2V553.5M1065.8 557.8V563.5M1137.4 558.0V563.9" stroke="#030308" stroke-width="3.0" fill="none"/><path d="M210.9 544.2V549.5M255.7 543.0V548.3M293.0 539.5V544.3M471.6 438.6V448.2M477.9 428.5V438.2M555.5 309.1V319.0M716.0 139.3V152.5M775.8 87.5V105.7M807.4 97.5V105.1M823.5 88.8V114.5M828.6 105.1V118.8M852.3 156.5V162.9M873.7 229.5V238.4M897.7 341.7V349.6M1108.6 551.6V556.8M1203.7 550.4V556.2M210.8 551.0V555.9M346.9 534.3V539.6M540.7 377.8V384.0M621.7 228.2V237.1M708.7 218.7V228.9M799.5 149.0V159.5M810.0 151.3V167.4M842.6 199.8V212.2M938.6 495.5V502.3M958.9 523.6V528.4M1076.5 558.0V563.5M1163.6 558.0V562.8M1222.7 558.0V562.6" stroke="#030308" stroke-width="6.0" fill="none"/><path d="M215.7 545.0V549.6M277.3 540.8V546.3M366.9 519.2V524.3M465.1 452.4V457.8M509.8 388.4V394.1M526.1 361.8V368.3M535.9 342.6V351.8M549.6 318.7V329.6M624.0 150.7V166.1M653.2 130.9V145.1M677.3 123.2V136.9M721.0 132.7V146.6M782.2 92.6V106.9M788.0 89.1V106.9M881.0 265.3V270.8M991.9 539.1V544.4M1064.7 551.2V556.8M1126.4 552.1V556.7M1182.5 551.6V556.3M1211.9 551.0V556.2M204.0 551.0V557.0M271.2 548.9V553.9M397.1 517.6V523.5M461.9 472.3V480.0M478.8 453.8V460.0M514.7 412.8V419.0M652.9 204.0V211.9M675.1 207.3V215.7M782.0 149.1V167.1M791.1 149.0V157.7M951.0 514.4V519.1M1214.0 558.0V562.7M752.0 99.0V115.4" stroke="#030308" stroke-width="3.5" fill="none"/><path d="M222.8 545.3V549.8M428.3 487.1V494.3M448.9 469.6V476.6M486.7 416.9V424.6M562.8 295.0V304.6M666.4 119.4V140.6M690.7 121.1V140.6M904.4 372.3V377.2M1197.0 551.0V556.2M332.3 538.2V543.3M340.0 536.4V541.1M633.7 214.5V221.7M663.0 204.0V218.2M699.3 217.8V225.4M863.3 258.3V267.2M926.9 468.7V474.9" stroke="#030308" stroke-width="7.0" fill="none"/><path d="M237.9 544.0V549.5M401.9 505.2V511.5M435.5 484.0V488.5M517.7 374.2V382.8M577.0 273.1V279.3M866.3 203.3V210.0M1101.8 551.7V556.8M1122.3 552.1V556.7M1228.7 550.7V556.1M489.3 439.9V444.6M527.7 397.1V406.0M551.4 363.0V369.1M692.4 215.4V227.1" stroke="#030308" stroke-width="2.5" fill="none"/><path d="M247.4 543.4V548.8M263.0 543.0V547.7M381.9 514.8V519.7M421.3 494.0V499.8M505.0 390.8V400.1M646.2 123.8V147.7M671.9 126.2V138.7M725.7 117.6V140.2M749.3 103.0V115.8M794.9 81.8V106.0M847.0 134.4V147.9M943.6 491.5V497.3M1005.2 544.0V549.9M1014.9 548.4V553.0M1020.0 549.0V553.8M1142.0 552.0V556.6M231.7 550.9V556.1M299.0 545.3V550.7M390.8 520.0V525.0M403.3 514.7V519.8M410.0 511.6V517.2M472.3 461.4V468.9M640.0 208.6V215.2M737.2 203.3V217.0M770.8 151.3V175.5M851.4 224.5V231.0M908.8 419.1V424.5M1195.4 558.0V562.7M765.0 67.0V106.1M823.0 60.0V115.1M657.0 118.0V144.8M742.0 102.0V119.3" stroke="#030308" stroke-width="4.0" fill="none"/><path d="M267.7 542.3V547.2M311.0 535.2V540.2M361.2 520.6V526.1M372.7 515.6V522.6M456.4 460.0V468.1M570.4 284.7V291.1M595.9 224.2V230.1M600.1 206.4V216.6M734.2 115.2V126.0M800.5 84.7V104.8M936.7 479.4V484.4M1000.3 543.1V548.2M1116.5 552.0V556.7M278.1 548.2V553.8M433.8 497.5V504.9M443.0 491.0V497.0M582.7 321.9V329.1M681.8 210.4V219.6M745.5 190.3V202.7M752.5 178.0V197.2M822.3 162.8V173.1" stroke="#030308" stroke-width="5.5" fill="none"/><path d="M302.8 536.8V542.1M320.2 532.4V537.9M389.5 512.5V517.4M495.1 406.0V412.8M542.7 331.1V340.6M630.9 138.2V157.0M706.4 128.7V151.2M760.3 83.8V108.4M914.0 410.5V415.6M923.2 439.3V446.0M971.6 525.5V531.0M980.2 532.0V537.7M1170.6 551.6V556.4M1218.9 550.9V556.1M246.1 550.5V555.5M258.3 550.0V555.4M376.4 524.4V530.1M563.8 348.7V353.6M602.3 282.3V290.9M610.9 261.3V268.8M715.3 217.7V228.9M872.4 287.1V292.5M1145.6 558.0V563.7M1230.3 558.0V563.2" stroke="#030308" stroke-width="6.5" fill="none"/><path d="M328.5 531.1V535.6M351.6 523.9V529.0M395.1 508.8V515.2M586.3 247.0V258.6M605.3 195.2V201.6M637.9 132.4V151.8M659.6 130.0V142.9M741.3 94.9V118.7M753.9 93.7V113.3M767.6 79.0V104.2M819.3 99.5V110.9M857.5 173.2V179.5M948.5 499.0V505.3M954.2 507.9V513.5M987.1 537.2V542.0M1187.1 551.3V556.3M1234.0 550.4V556.0M557.6 355.4V363.0M571.4 342.2V347.2M1109.2 558.0V564.0M780.0 55.0V107.6M789.0 71.0V107.9M641.0 110.0V151.2" stroke="#030308" stroke-width="4.5" fill="none"/><path d="M338.3 527.1V533.0M416.8 496.7V502.8M444.1 473.9V481.3M581.2 263.0V270.5M698.5 136.6V146.2M837.1 113.3V128.1M909.9 393.4V400.1M1048.4 551.4V556.3M1080.7 551.6V557.0M1154.1 550.8V556.5M1163.4 550.6V556.5M290.3 546.8V552.7M418.3 507.6V514.4M501.8 424.8V433.3M591.7 298.8V305.0M726.6 210.7V218.0M758.9 166.5V184.7M835.1 180.7V188.0M878.9 312.2V317.8M897.7 382.9V389.8M1039.1 557.0V561.9M1048.3 557.3V563.3M1120.7 558.0V563.4" stroke="#030308" stroke-width="5.0" fill="none"/><path d="M441.7 486.1V493.5M450.4 473.2V480.0M457.3 468.7V473.5M460.2 464.3V469.5M474.7 448.9V457.1M481.3 433.2V441.3M519.8 380.4V390.9M534.9 364.9V391.1M540.6 345.1V367.3M546.8 336.8V349.2M559.3 320.9V349.0M574.2 297.1V325.3M580.4 291.1V318.5M586.3 267.8V306.9M604.8 208.9V241.5M615.8 182.1V223.9M621.5 193.2V230.0M643.2 156.5V184.9M645.5 163.5V190.1M648.7 146.2V178.4M658.2 160.3V196.3M667.6 153.3V177.0M678.8 166.6V207.8M681.7 155.8V192.6M687.7 136.9V192.9M699.3 177.9V204.6M705.6 161.3V211.3M718.6 176.8V204.9M751.2 142.1V180.4M757.0 135.6V160.0M783.9 112.7V143.8M789.6 121.2V135.8M796.5 107.3V136.8M798.7 111.3V129.7M801.6 114.4V149.1M805.2 114.7V141.3M816.7 120.3V142.2M820.2 132.7V152.6M828.7 138.4V172.1M850.2 180.8V202.4M876.9 268.2V306.3M880.8 275.1V309.9M882.5 284.3V306.3M885.9 293.5V324.6M894.7 342.6V361.5M900.4 364.2V385.0M907.0 387.7V402.9M918.3 435.3V445.3" stroke="#5e5e78" stroke-width="1.65" fill="none"/><circle cx="539.5" cy="412.5" r="3.1" fill="#111"/><circle cx="559.5" cy="562" r="3.1" fill="#111"/><rect x="148" y="0" width="5.5" height="804" fill="#34344a"/><rect x="148" y="798.5" width="1093.5" height="5" fill="#34344a"/><rect x="149" y="-4" width="1092.5" height="8.2" fill="#000"/><rect x="1237.5" y="0" width="4" height="804" fill="#141420"/><rect x="153" y="784.2" width="14" height="3.5" fill="#2a2a3a"/><rect x="153" y="658.8" width="6" height="3.5" fill="#2a2a3a"/><rect x="153" y="533.2" width="14" height="3.5" fill="#2a2a3a"/><rect x="153" y="407.2" width="6" height="3.5" fill="#2a2a3a"/><rect x="153" y="281.2" width="14" height="3.5" fill="#2a2a3a"/><rect x="153" y="155.8" width="6" height="3.5" fill="#2a2a3a"/><rect x="153" y="30.8" width="14" height="3.5" fill="#2a2a3a"/><rect x="220.7" y="793.5" width="2.5" height="5" fill="#2a2a3a"/><rect x="298.8" y="785.5" width="2.5" height="13" fill="#2a2a3a"/><rect x="376.9" y="793.5" width="2.5" height="5" fill="#2a2a3a"/><rect x="454.9" y="785.5" width="2.5" height="13" fill="#2a2a3a"/><rect x="533.0" y="793.5" width="2.5" height="5" fill="#2a2a3a"/><rect x="611.1" y="785.5" width="2.5" height="13" fill="#2a2a3a"/><rect x="689.2" y="793.5" width="2.5" height="5" fill="#2a2a3a"/><rect x="767.3" y="785.5" width="2.5" height="13" fill="#2a2a3a"/><rect x="845.4" y="793.5" width="2.5" height="5" fill="#2a2a3a"/><rect x="923.5" y="785.5" width="2.5" height="13" fill="#2a2a3a"/><rect x="1001.6" y="793.5" width="2.5" height="5" fill="#2a2a3a"/><rect x="1079.8" y="785.5" width="2.5" height="13" fill="#2a2a3a"/><rect x="1157.8" y="793.5" width="2.5" height="5" fill="#2a2a3a"/></g><g filter="url(#t)"><text x="302" y="847" font-family="Liberation Serif" font-size="38" text-anchor="middle" fill="#22222c" stroke="#22222c" stroke-width="0.5">578.5</text><text x="457.5" y="847" font-family="Liberation Serif" font-size="38" text-anchor="middle" fill="#22222c" stroke="#22222c" stroke-width="0.5">579.0</text><text x="614" y="847" font-family="Liberation Serif" font-size="38" text-anchor="middle" fill="#22222c" stroke="#22222c" stroke-width="0.5">579.5</text><text x="771.5" y="847" font-family="Liberation Serif" font-size="38" text-anchor="middle" fill="#22222c" stroke="#22222c" stroke-width="0.5">580.0</text><text x="926.5" y="847" font-family="Liberation Serif" font-size="38" text-anchor="middle" fill="#22222c" stroke="#22222c" stroke-width="0.5">580.5</text><text x="1083.5" y="847" font-family="Liberation Serif" font-size="38" text-anchor="middle" fill="#22222c" stroke="#22222c" stroke-width="0.5">581.0</text><text x="1240" y="847" font-family="Liberation Serif" font-size="38" text-anchor="middle" fill="#22222c" stroke="#22222c" stroke-width="0.5">581.5</text><text x="133" y="43" font-family="Liberation Serif" font-size="37" text-anchor="end" fill="#3a3a46">1.5</text><text x="133" y="294" font-family="Liberation Serif" font-size="37" text-anchor="end" fill="#3a3a46">1.0</text><text x="133" y="546" font-family="Liberation Serif" font-size="37" text-anchor="end" fill="#3a3a46">0.5</text><text x="133" y="797" font-family="Liberation Serif" font-size="37" text-anchor="end" fill="#3a3a46">0.0</text><text x="697" y="915" font-family="Liberation Serif" font-size="38" text-anchor="middle" fill="#22222c" stroke="#22222c" stroke-width="0.5">Wavelength (nm)</text><text transform="translate(30,389.5) rotate(-90) scale(1.107,1)" font-family="Liberation Serif" font-size="36" text-anchor="middle" fill="#22222c">Intensity (a. u.)</text><text x="238.5" y="512" font-family="Liberation Sans" font-size="36" letter-spacing="1.2" fill="#22222c">10 K (a)</text><text x="260" y="621" font-family="Liberation Sans" font-size="36" letter-spacing="1.6" fill="#22222c">200 K (b)</text><text x="265.5" y="731" font-family="Liberation Sans" font-size="36" letter-spacing="1.4" fill="#22222c">300 K (c)</text></g></svg></body></html>
